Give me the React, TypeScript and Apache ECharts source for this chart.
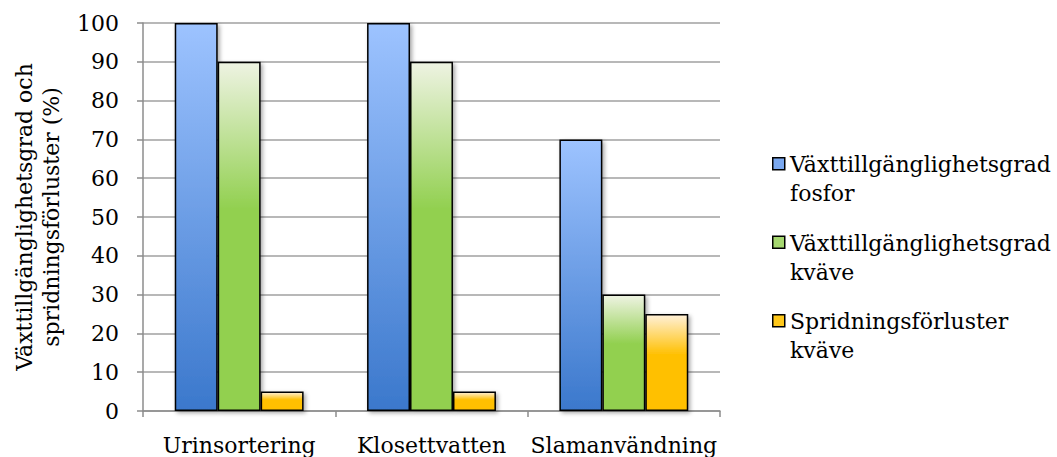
import React, { useEffect, useRef } from "react";
import * as echarts from "echarts";

const categories = ["Urinsortering", "Klosettvatten", "Slamanvändning"];
const seriesNames = [
  "Växttillgänglighetsgrad\nfosfor",
  "Växttillgänglighetsgrad\nkväve",
  "Spridningsförluster\nkväve",
];
const fosfor = [100, 100, 70];
const kvaveTillg = [90, 90, 30];
const kvaveForlust = [5, 5, 25];
const yTicks = { min: 0, max: 100, interval: 10 };
const yTitle = "Växttillgänglighetsgrad och\nspridningsförluster (%)";

const FONT = "DejaVu Serif";

const grads = [
  [
    { offset: 0, color: "#9DC3FF" },
    { offset: 1, color: "#3B78CC" },
  ],
  [
    { offset: 0, color: "#EEF3E2" },
    { offset: 0.42, color: "#92D050" },
    { offset: 1, color: "#92D050" },
  ],
  [
    { offset: 0, color: "#FFF0D8" },
    { offset: 0.42, color: "#FFC000" },
    { offset: 1, color: "#FFC000" },
  ],
];
const legendColors = ["#7AA8F0", "#A6D870", "#FFC81A"];

export default function App() {
  const ref = useRef<HTMLDivElement>(null);
  useEffect(() => {
    const chart = echarts.init(ref.current!, null, { renderer: "svg" });
    const data = [fosfor, kvaveTillg, kvaveForlust];
    const series = data.map((d, i) => ({
      name: seriesNames[i],
      type: "bar",
      data: d,
      barGap: "0%",
      barCategoryGap: "33%",
      itemStyle: {
        color: new echarts.graphic.LinearGradient(0, 0, 0, 1, grads[i]),
        borderColor: "#000",
        borderWidth: 1.5,
        shadowColor: "rgba(0,0,0,0.35)",
        shadowBlur: 4,
        shadowOffsetX: 2,
        shadowOffsetY: 2,
      },
    }));
    const legendGraphics: any[] = [];
    seriesNames.forEach((n, i) => {
      legendGraphics.push({
        type: "rect",
        left: 772,
        top: 157 + 78.5 * i,
        shape: { width: 12, height: 12 },
        style: { fill: legendColors[i], stroke: "#000", lineWidth: 1.5 },
      });
      legendGraphics.push({
        type: "text",
        left: 790,
        top: 150 + 78.5 * i,
        style: {
          text: n,
          font: `22px "${FONT}"`,
          lineHeight: 29,
          fill: "#000",
        },
      });
    });
    chart.setOption({
      animation: false,
      grid: { left: 143, right: 337, top: 23, bottom: 46, containLabel: false },
      xAxis: {
        type: "category",
        data: categories,
        axisLine: { lineStyle: { color: "#8C8C8C", width: 1.5 } },
        axisTick: { show: true, length: 6, lineStyle: { color: "#8C8C8C", width: 1.5 } },
        axisLabel: { color: "#000", fontFamily: FONT, fontSize: 22, margin: 23, interval: 0 },
      },
      yAxis: {
        type: "value",
        min: yTicks.min,
        max: yTicks.max,
        interval: yTicks.interval,
        name: yTitle,
        nameLocation: "middle",
        nameRotate: 90,
        nameGap: 78,
        nameTextStyle: { color: "#000", fontFamily: FONT, fontSize: 22, lineHeight: 27 },
        axisLine: { show: true, lineStyle: { color: "#8C8C8C", width: 1.5 } },
        axisTick: { show: true, length: 6, lineStyle: { color: "#8C8C8C", width: 1.5 } },
        axisLabel: { color: "#000", fontFamily: FONT, fontSize: 22, margin: 24 },
        splitLine: { lineStyle: { color: "#A0A0A0", width: 1.5 } },
      },
      series,
      graphic: legendGraphics,
    });
    return () => chart.dispose();
  }, []);
  return (
    <div
      ref={ref}
      style={{ position: "absolute", left: 0, top: 0, width: 1057, height: 457 }}
    />
  );
}
